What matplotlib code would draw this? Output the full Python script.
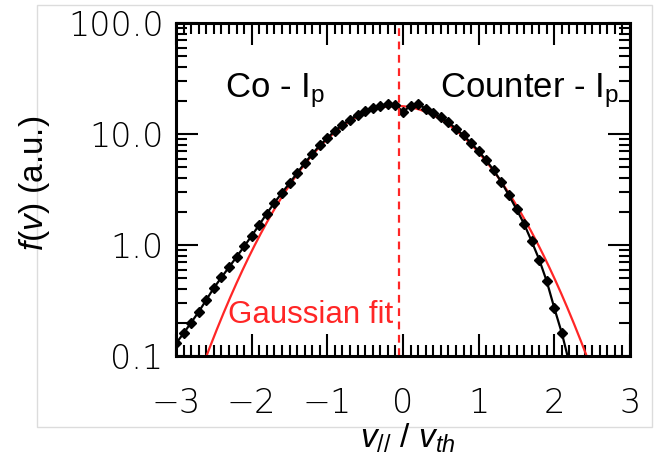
import numpy as np
import matplotlib.pyplot as plt
from matplotlib.patches import Rectangle
from matplotlib.ticker import FixedLocator, FixedFormatter, MultipleLocator, LogLocator, NullFormatter

plt.rcParams['mathtext.fontset'] = 'custom'
plt.rcParams['mathtext.rm'] = 'Liberation Sans'
plt.rcParams['mathtext.it'] = 'Liberation Sans:italic'

v_par = [-3.0, -2.9, -2.8, -2.7, -2.6, -2.5, -2.4, -2.3, -2.2, -2.1,
         -2.0, -1.9, -1.8, -1.7, -1.6, -1.5, -1.4, -1.3, -1.2, -1.1,
         -1.0, -0.9, -0.8, -0.7, -0.6, -0.5, -0.4, -0.3, -0.2, -0.1,
         0.0, 0.1, 0.2, 0.3, 0.4, 0.5, 0.6, 0.7, 0.8, 0.9,
         1.0, 1.1, 1.2, 1.3, 1.4, 1.5, 1.6, 1.7, 1.8, 1.9,
         2.0, 2.1, 2.2]
f_meas = [0.13, 0.16, 0.20, 0.25, 0.32, 0.41, 0.51, 0.63, 0.78, 0.97,
          1.21, 1.52, 1.92, 2.40, 2.95, 3.60, 4.45, 5.45, 6.6, 7.9,
          9.2, 10.7, 12.1, 13.5, 14.9, 16.0, 17.0, 17.8, 18.8, 18.4,
          15.8, 18.0, 18.6, 16.9, 15.6, 14.1, 12.7, 11.2, 9.7, 8.3,
          7.0, 5.8, 4.7, 3.7, 2.8, 2.1, 1.55, 1.08, 0.74, 0.47,
          0.27, 0.16, 0.085]

# gaussian fit parameters
fit_amp = 17.9
fit_center = -0.085
fit_sigma = 0.78
dash_pos = -0.05

x_ticks = [-3, -2, -1, 0, 1, 2, 3]
x_labels = ['\u22123', '\u22122', '\u22121', '0', '1', '2', '3']
y_ticks = [0.1, 1.0, 10.0, 100.0]
y_labels = ['0.1', '1.0', '10.0', '100.0']

red = '#ff2626'

fig = plt.figure(figsize=(6.56, 4.55), dpi=100)
fig.patches.append(Rectangle((37/656, 1-427/455), 615/656, 422/455,
                             transform=fig.transFigure, fill=False,
                             ec='#dcdcdc', lw=1))
ax = fig.add_axes([176/656, 1-356/455, 454/656, 333/455])

vv = np.linspace(-3, 3, 601)
ax.plot(vv, fit_amp*np.exp(-(vv-fit_center)**2/(2*fit_sigma**2)), color=red, lw=1.6)
ax.plot(v_par, f_meas, color='black', lw=1.6, marker='D', ms=5.5)
ax.axvline(dash_pos, color=red, lw=1.6, ls=(0, (3.5, 2.5)))

ax.set_yscale('log')
ax.set_xlim(-3, 3)
ax.set_ylim(0.1, 100)

ax.xaxis.set_major_locator(FixedLocator(x_ticks))
ax.xaxis.set_major_formatter(FixedFormatter(x_labels))
ax.xaxis.set_minor_locator(MultipleLocator(0.1))
ax.yaxis.set_major_locator(FixedLocator(y_ticks))
ax.yaxis.set_major_formatter(FixedFormatter(y_labels))
ax.yaxis.set_minor_locator(LogLocator(base=10, subs=np.arange(2, 10)))
ax.yaxis.set_minor_formatter(NullFormatter())

ax.tick_params(which='both', direction='in', top=True, right=True, width=1.5, color='black')
ax.tick_params(which='major', length=16)
ax.tick_params(which='minor', length=8)
ax.tick_params(axis='x', which='major', pad=22, labelsize=24)
ax.tick_params(axis='y', which='major', pad=9, labelsize=24)
for lab in ax.get_xticklabels() + ax.get_yticklabels():
    lab.set_fontfamily('DejaVu Sans')
    lab.set_fontweight('light')
for s in ax.spines.values():
    s.set_linewidth(2.2)

ax.text(-2.35, 21.5, 'Co - I$_{\\rm p}$', fontsize=25, family='Liberation Sans', va='baseline')
ax.text(2.85, 21.5, 'Counter - I$_{\\rm p}$', fontsize=25, family='Liberation Sans',
        va='baseline', ha='right')
ax.text(-2.31, 0.2, 'Gaussian fit', fontsize=22.5, family='Liberation Sans', color=red)

fig.text(35/656, 1-183/455, '$f$($v$) (a.u.)', rotation=90, fontsize=24,
         family='Liberation Sans', ha='center', va='center')
fig.text(408/656, 1-438/455, '$v_{//}$ / $v_{th}$', fontsize=24,
         family='Liberation Sans', ha='center', va='center')

fig.savefig('out.png', dpi=100)
